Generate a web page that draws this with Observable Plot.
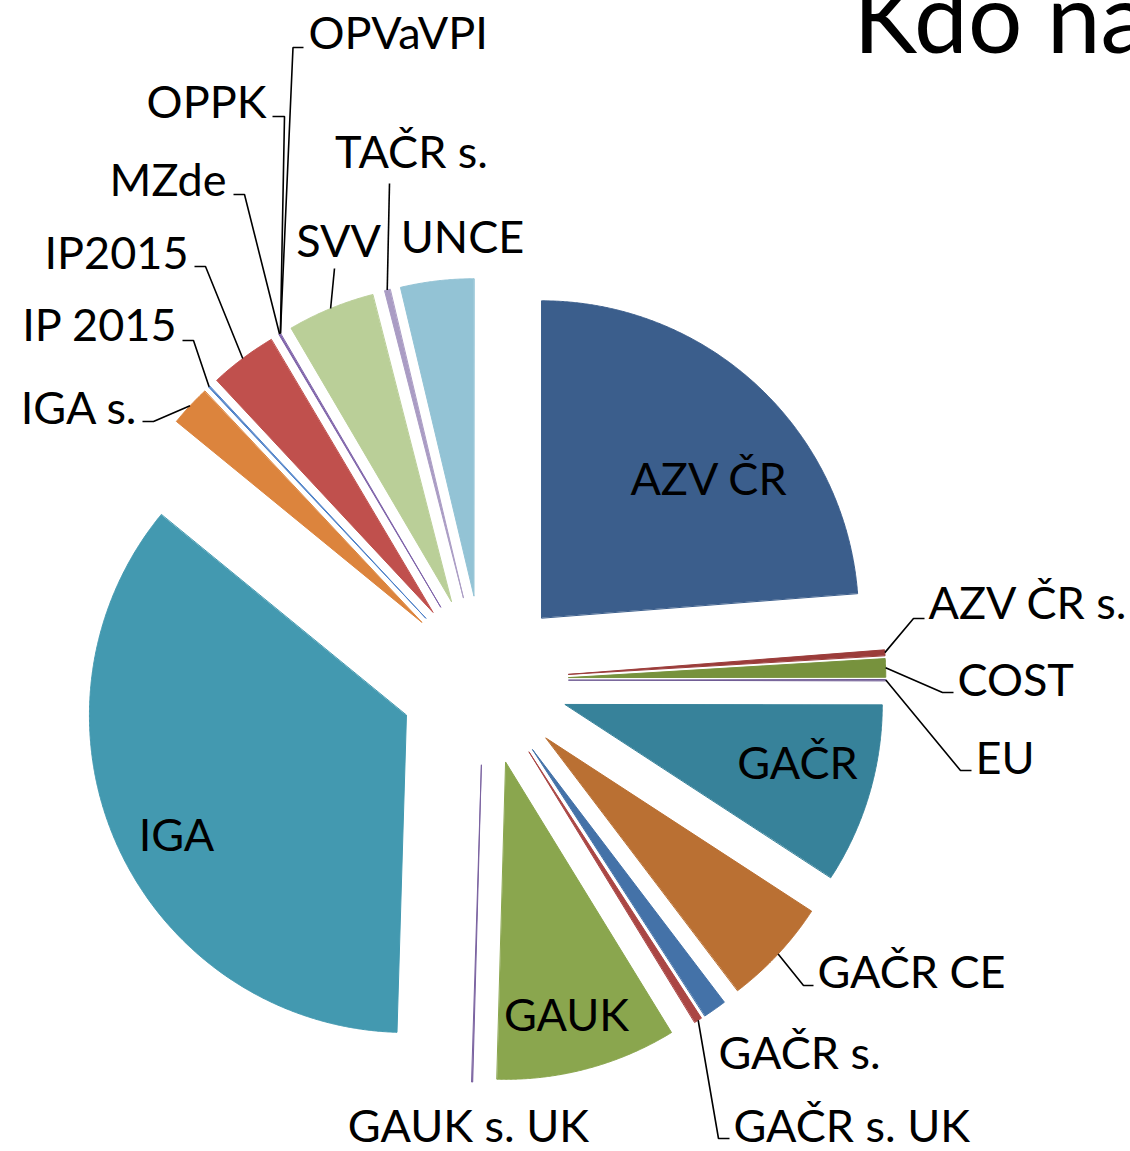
<!DOCTYPE html>
<html><head><meta charset="utf-8">
<script src="https://cdn.jsdelivr.net/npm/d3@7"></script>
<script src="https://cdn.jsdelivr.net/npm/@observablehq/plot@0.6"></script>
<style>html,body{margin:0;padding:0;background:#fff;overflow:hidden;} #chart{width:1130px;height:1151px;overflow:hidden;}</style>
</head><body><div id="chart"></div>
<script>
// ---- data ----
const categories = ["AZV ČR","AZV ČR s.","COST","EU","GAČR","GAČR CE","GAČR s.","GAČR s. UK","GAUK","GAUK s. UK","IGA","IGA s.","IP 2015","IP2015","MZde","OPPK","OPVaVPI","SVV","TAČR s.","UNCE"];
const shares = [23.76,0.28,0.92,0.05,9.17,5.47,1.19,0.39,9.19,0.04,35.43,2.08,0.06,3.42,0.08,0,0,4.44,0.28,3.72];
const sliceColors = ["#3B5E8C","#9B3C3A","#77923D","#6E5A93","#37829A","#BA7033","#4472A8","#AA4644","#8AA64E","#7A62A0","#4399B0","#DC843D","#4A7EC6","#C0504D","#7D61A8","#4BACC6","#F79646","#BACF98","#AA9CC4","#93C3D5"];
const titleText = "Kdo na";

// ---- layout ----
const W = 1130, H = 1151;
const CX = 483.3, CY = 679.7, R = 317, EXPLODE = 85;
const FONT = 45;
const labelLayout = [
  {name:"AZV ČR", x:708, y:494, anchor:"middle"},
  {name:"AZV ČR s.", x:928, y:618, anchor:"start", elbow:[913,618], end:924},
  {name:"COST", x:957, y:695, anchor:"start", elbow:[942,692], end:953},
  {name:"EU", x:975, y:773, anchor:"start", elbow:[960,770], end:971},
  {name:"GAČR", x:797, y:778, anchor:"middle"},
  {name:"GAČR CE", x:817, y:987, anchor:"start", elbow:[803,985], end:813},
  {name:"GAČR s.", x:718, y:1068, anchor:"start"},
  {name:"GAČR s. UK", x:733, y:1141, anchor:"start", elbow:[718,1138], end:729},
  {name:"GAUK", x:566, y:1030, anchor:"middle"},
  {name:"GAUK s. UK", x:468, y:1141, anchor:"middle"},
  {name:"IGA", x:176, y:850, anchor:"middle"},
  {name:"IGA s.", x:136, y:423, anchor:"end", elbow:[153,421], end:142},
  {name:"IP 2015", x:176, y:340, anchor:"end", elbow:[193,340], end:182},
  {name:"IP2015", x:188, y:268, anchor:"end", elbow:[205,266], end:194},
  {name:"MZde", x:226, y:195, anchor:"end", elbow:[244,194], end:233},
  {name:"OPPK", x:266, y:117, anchor:"end", elbow:[284,116], end:272},
  {name:"OPVaVPI", x:308, y:48, anchor:"start", elbow:[292.5,47], end:303},
  {name:"SVV", x:338, y:256, anchor:"middle", elbow:[334,268]},
  {name:"TAČR s.", x:411, y:167, anchor:"middle", elbow:[389,183]},
  {name:"UNCE", x:462, y:252, anchor:"middle"}
];

// ---- geometry from data ----
const arcs = d3.pie().sort(null).value(d => d)(shares);
const slicePts = [];
const outerMid = {};
arcs.forEach((a, i) => {
  const name = categories[i];
  const s = a.startAngle, e = a.endAngle, m = (s + e) / 2;
  const ox = CX + EXPLODE * Math.sin(m), oy = CY - EXPLODE * Math.cos(m);
  outerMid[name] = [ox + R * Math.sin(m), oy - R * Math.cos(m)];
  if (a.value <= 0) return;
  slicePts.push({name, x: ox, y: oy});
  const n = Math.max(2, Math.ceil((e - s) / 0.004));
  for (let k = 0; k <= n; k++) {
    const t = s + (e - s) * k / n;
    slicePts.push({name, x: ox + R * Math.sin(t), y: oy - R * Math.cos(t)});
  }
});
const leaderPts = [];
labelLayout.filter(l => l.elbow).forEach(l => {
  const st = outerMid[l.name];
  leaderPts.push({name: l.name, x: st[0], y: st[1]});
  leaderPts.push({name: l.name, x: l.elbow[0], y: l.elbow[1]});
  if (l.end !== undefined) leaderPts.push({name: l.name, x: l.end, y: l.elbow[1]});
});

const textMark = anchor => Plot.text(labelLayout.filter(l => l.anchor === anchor), {
  x: "x", y: "y", text: "name", textAnchor: anchor, lineAnchor: "bottom",
  fontSize: FONT, fill: "black"
});

const chart = Plot.plot({
  width: W, height: H, margin: 0,
  x: {domain: [0, W], axis: null},
  y: {domain: [H, 0], axis: null},
  color: {domain: categories, range: sliceColors},
  style: {fontFamily: "Lato", background: "white", overflow: "hidden"},
  marks: [
    Plot.line(slicePts, {x: "x", y: "y", z: "name", fill: "name", stroke: "name", strokeWidth: 1, curve: "linear-closed"}),
    Plot.line(leaderPts, {x: "x", y: "y", z: "name", stroke: "black", strokeWidth: 1.6, strokeLinecap: "butt", strokeLinejoin: "miter"}),
    textMark("start"), textMark("middle"), textMark("end"),
    Plot.text([titleText], {text: d => d, frameAnchor: "top-left", dx: 853, dy: 52, lineAnchor: "bottom", textAnchor: "start", fontSize: 96, fill: "black"})
  ]
});
document.getElementById("chart").appendChild(chart);
</script>
</body></html>
